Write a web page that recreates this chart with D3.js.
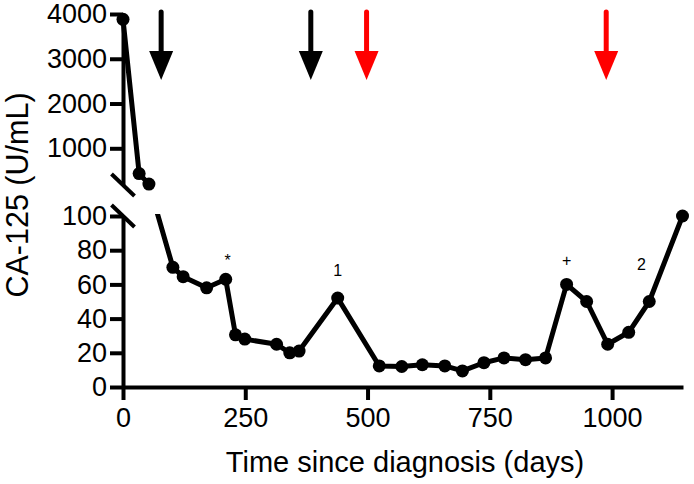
<!DOCTYPE html>
<html>
<head>
<meta charset="utf-8">
<script src="https://cdn.jsdelivr.net/npm/d3@7"></script>
<style>
  body { margin: 0; background: #fff; }
  svg { font-family: "Liberation Sans", Arial, sans-serif; }
  .axis path, .axis line { stroke: #000; stroke-width: 4; }
  .axis text { font-size: 27px; fill: #000; }
</style>
</head>
<body>
<script>
// days since diagnosis and CA-125 readings (U/mL)
const days = [0, 33, 53, 102, 123, 171, 210, 230, 249, 314, 341, 360, 439, 524, 570, 612, 658, 694, 738, 779, 823, 864, 907, 948, 991, 1034, 1076, 1144];
const ca125 = [3880, 435, 200, 70, 64.5, 58, 63, 30.5, 28, 25, 20, 21, 52, 12.3, 12, 13, 12.3, 9.4, 14.2, 17, 16, 17, 60, 50, 25, 32, 50, 100];

// treatment arrows
const arrowDays = [78, 384, 498, 988];
const arrowColors = ['#000', '#000', '#ff0000', '#ff0000'];

// annotations (baseline in data units of the lower panel)
const annoLabels = ['*', '1', '+', '2'];
const annoDays = [214, 439, 907, 1060];
const annoValues = [71, 65, 71, 68.4];

const xTicks = [0, 250, 500, 750, 1000];
const yLowTicks = [0, 20, 40, 60, 80, 100];
const yHighTicks = [1000, 2000, 3000, 4000];

const width = 694, height = 484;

const xScale = d3.scaleLinear().domain([0, 1145]).range([123, 683]);
const yHigh = d3.scaleLinear().domain([180, 4000]).range([185, 14]);
const yLow = d3.scaleLinear().domain([0, 100]).range([387, 216]);
const yPos = (v) => v > 100 ? yHigh(v) : yLow(v);

const data = days.map((d, i) => ({ day: d, value: ca125[i] }));

const svg = d3.select('body')
  .append('svg')
  .attr('width', width)
  .attr('height', height);

// clip away the line inside the axis break
const clip = svg.append('defs').append('clipPath').attr('id', 'breakClip');
clip.append('rect').attr('x', 0).attr('y', 0).attr('width', width).attr('height', 187);
clip.append('rect').attr('x', 0).attr('y', 214).attr('width', width).attr('height', height - 214);

// axes
svg.append('g')
  .attr('class', 'axis')
  .attr('transform', 'translate(0,' + yLow(0) + ')')
  .call(d3.axisBottom(xScale).tickValues(xTicks).tickFormat(d3.format('d')).tickSize(13).tickSizeOuter(0).tickPadding(8));

svg.append('g')
  .attr('class', 'axis')
  .attr('transform', 'translate(' + xScale(0) + ',0)')
  .call(d3.axisLeft(yLow).tickValues(yLowTicks).tickFormat(d3.format('d')).tickSize(13).tickSizeOuter(0).tickPadding(3));

svg.append('g')
  .attr('class', 'axis')
  .attr('transform', 'translate(' + xScale(0) + ',0)')
  .call(d3.axisLeft(yHigh).tickValues(yHighTicks).tickFormat(d3.format('d')).tickSize(13).tickSizeOuter(0).tickPadding(3));

// break marks
[yHigh.range()[0], yLow.range()[1]].forEach((yb) => {
  svg.append('line')
    .attr('x1', xScale(0) - 11.5).attr('y1', yb - 11)
    .attr('x2', xScale(0) + 11.5).attr('y2', yb + 11)
    .attr('stroke', '#000')
    .attr('stroke-width', 4);
});

// data line and points
const line = d3.line()
  .x((d) => xScale(d.day))
  .y((d) => yPos(d.value));

svg.append('path')
  .datum(data)
  .attr('clip-path', 'url(#breakClip)')
  .attr('fill', 'none')
  .attr('stroke', '#000')
  .attr('stroke-width', 5)
  .attr('stroke-linejoin', 'round')
  .attr('d', line);

svg.append('g')
  .selectAll('circle')
  .data(data)
  .enter()
  .append('circle')
  .attr('cx', (d) => xScale(d.day))
  .attr('cy', (d) => yPos(d.value))
  .attr('r', 6.5)
  .attr('fill', '#000');

// arrows
const arrows = svg.append('g')
  .selectAll('g')
  .data(arrowDays)
  .enter()
  .append('g')
  .attr('transform', (d) => 'translate(' + xScale(d) + ',0)');

arrows.append('line')
  .attr('x1', 0).attr('y1', 12)
  .attr('x2', 0).attr('y2', 56)
  .attr('stroke', (d, i) => arrowColors[i])
  .attr('stroke-width', 5)
  .attr('stroke-linecap', 'round');

arrows.append('path')
  .attr('d', 'M-12,51L12,51L0,80Z')
  .attr('fill', (d, i) => arrowColors[i]);

// annotations
svg.append('g')
  .selectAll('text')
  .data(annoLabels)
  .enter()
  .append('text')
  .attr('x', (d, i) => xScale(annoDays[i]))
  .attr('y', (d, i) => yLow(annoValues[i]))
  .attr('text-anchor', 'middle')
  .style('font-size', '16px')
  .text((d) => d);

// axis titles
svg.append('text')
  .attr('transform', 'translate(405,472)')
  .attr('text-anchor', 'middle')
  .style('font-size', '29px')
  .text('Time since diagnosis (days)');

svg.append('text')
  .attr('transform', 'translate(28,195) rotate(-90)')
  .attr('text-anchor', 'middle')
  .style('font-size', '30.5px')
  .text('CA-125 (U/mL)');
</script>
</body>
</html>
